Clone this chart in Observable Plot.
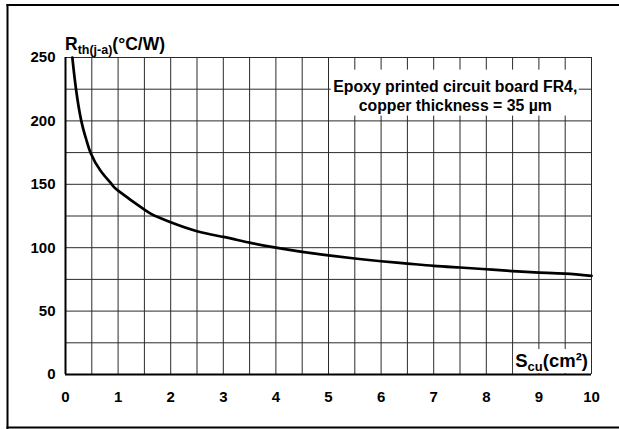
<!DOCTYPE html>
<html><head><meta charset="utf-8">
<script src="https://cdn.jsdelivr.net/npm/d3@7"></script>
<script src="https://cdn.jsdelivr.net/npm/@observablehq/plot@0.6"></script>
<style>
html,body{margin:0;padding:0;overflow:hidden;background:#fff;font-family:"Liberation Sans",Arial,sans-serif}
#wrap{position:relative;width:619px;height:429px;overflow:hidden}
</style></head><body><div id="wrap"></div>
<script>
// Copper area S_cu (cm²)
const sCu = [0.13, 0.2, 0.3, 0.39, 0.48, 0.67, 0.88, 1, 1.5, 1.71, 2, 2.5, 3, 3.5, 4, 4.5, 5, 5.5, 6, 6.5, 7, 7.5, 8, 8.5, 9, 9.5, 10];
// Thermal resistance junction-ambient (°C/W)
const rth = [250, 225, 200, 186, 174.5, 160.5, 150, 145, 130, 125, 120, 113, 108.5, 104, 100, 96.7, 94, 91.5, 89.3, 87.5, 85.7, 84.4, 83, 81.5, 80.4, 79.6, 77.8];

const xTicks = [0, 1, 2, 3, 4, 5, 6, 7, 8, 9, 10];
const yTicks = [0, 50, 100, 150, 200, 250];
const xGrid = [0, 0.5, 1, 1.5, 2, 2.5, 3, 3.5, 4, 4.5, 5, 5.5, 6, 6.5, 7, 7.5, 8, 8.5, 9, 9.5, 10];
const yGrid = [0, 25, 50, 75, 100, 125, 150, 175, 200, 225, 250];

const annotationLines = ["Epoxy printed circuit board FR4,", "copper thickness = 35 µm"];
const annotationX = 7.41;
const annotationY = 220;

const data = sCu.map((x, i) => ({x, y: rth[i]}));

const plot = Plot.plot({
  width: 619,
  height: 429,
  marginLeft: 65,
  marginRight: 28,
  marginTop: 57,
  marginBottom: 55,
  style: {fontFamily: "'Liberation Sans', Arial, sans-serif", background: "transparent"},
  x: {domain: [0, 10]},
  y: {domain: [0, 250]},
  marks: [
    Plot.ruleX(xGrid, {stroke: "#2a2a2a", strokeWidth: 1}),
    Plot.ruleY(yGrid, {stroke: "#2a2a2a", strokeWidth: 1}),
    Plot.ruleX([0], {stroke: "#000", strokeWidth: 2}),
    Plot.ruleY([0], {stroke: "#000", strokeWidth: 2}),
    Plot.line(data, {x: "x", y: "y", curve: "natural", stroke: "#000", strokeWidth: 2.7}),
    Plot.text([annotationLines.join("\n")], {
      x: [annotationX], y: [annotationY], text: d => d,
      fontSize: 15.8, fontWeight: "bold", lineHeight: 1.2, fill: "#000",
      className: "anno"
    }),
    Plot.axisX(xTicks, {tickSize: 0, tickPadding: 17, fontSize: 15, fontWeight: "bold", label: null, fill: "#000"}),
    Plot.axisY(yTicks, {tickSize: 0, tickPadding: 10, fontSize: 15, fontWeight: "bold", label: null, fill: "#000"})
  ]
});

document.getElementById("wrap").appendChild(plot);

const xs = plot.scale("x"), ys = plot.scale("y");
const svg = d3.select(plot);

// white box behind the annotation
const annoG = svg.select("g.anno");
if (!annoG.empty()) {
  const bb = annoG.node().getBBox();
  svg.insert("rect", "g.anno")
    .attr("x", bb.x - 2).attr("y", bb.y - 8)
    .attr("width", bb.width + 4).attr("height", bb.height + 10)
    .attr("fill", "#fff");
}

// y-axis title
const yl = svg.append("text")
  .attr("x", xs.apply(0)).attr("y", ys.apply(250) - 7)
  .attr("text-anchor", "start")
  .attr("font-weight", "bold").attr("font-size", 17.5).attr("fill", "#000");
yl.append("tspan").text("R");
yl.append("tspan").attr("font-size", 12.5).attr("dy", 4).text("th(j-a)");
yl.append("tspan").attr("dy", -4).text("(°C/W)");

// x-axis title with white background
const xg = svg.append("g");
const xl = xg.append("text")
  .attr("x", xs.apply(10) - 3).attr("y", ys.apply(0) - 7)
  .attr("text-anchor", "end")
  .attr("font-weight", "bold").attr("font-size", 18.5).attr("fill", "#000");
xl.append("tspan").text("S");
xl.append("tspan").attr("font-size", 13).attr("dy", 4).text("cu");
xl.append("tspan").attr("dy", -4).text("(cm²)");
const xb = xl.node().getBBox();
xg.insert("rect", "text")
  .attr("x", xb.x - 2).attr("y", xb.y - 1)
  .attr("width", xs.apply(10) - xb.x + 1.5).attr("height", ys.apply(0) - 1 - (xb.y - 1))
  .attr("fill", "#fff");

// outer frame: top, left and bottom edges (open on the right)
const fr = svg.append("g").attr("stroke", "#000").attr("stroke-width", 2).attr("stroke-linecap", "butt");
fr.append("line").attr("x1", 6.5).attr("x2", 619).attr("y1", 5).attr("y2", 5);
fr.append("line").attr("x1", 7.5).attr("x2", 7.5).attr("y1", 4).attr("y2", 429);
fr.append("line").attr("x1", 6.5).attr("x2", 619).attr("y1", 427.5).attr("y2", 427.5);
</script>
</body></html>
